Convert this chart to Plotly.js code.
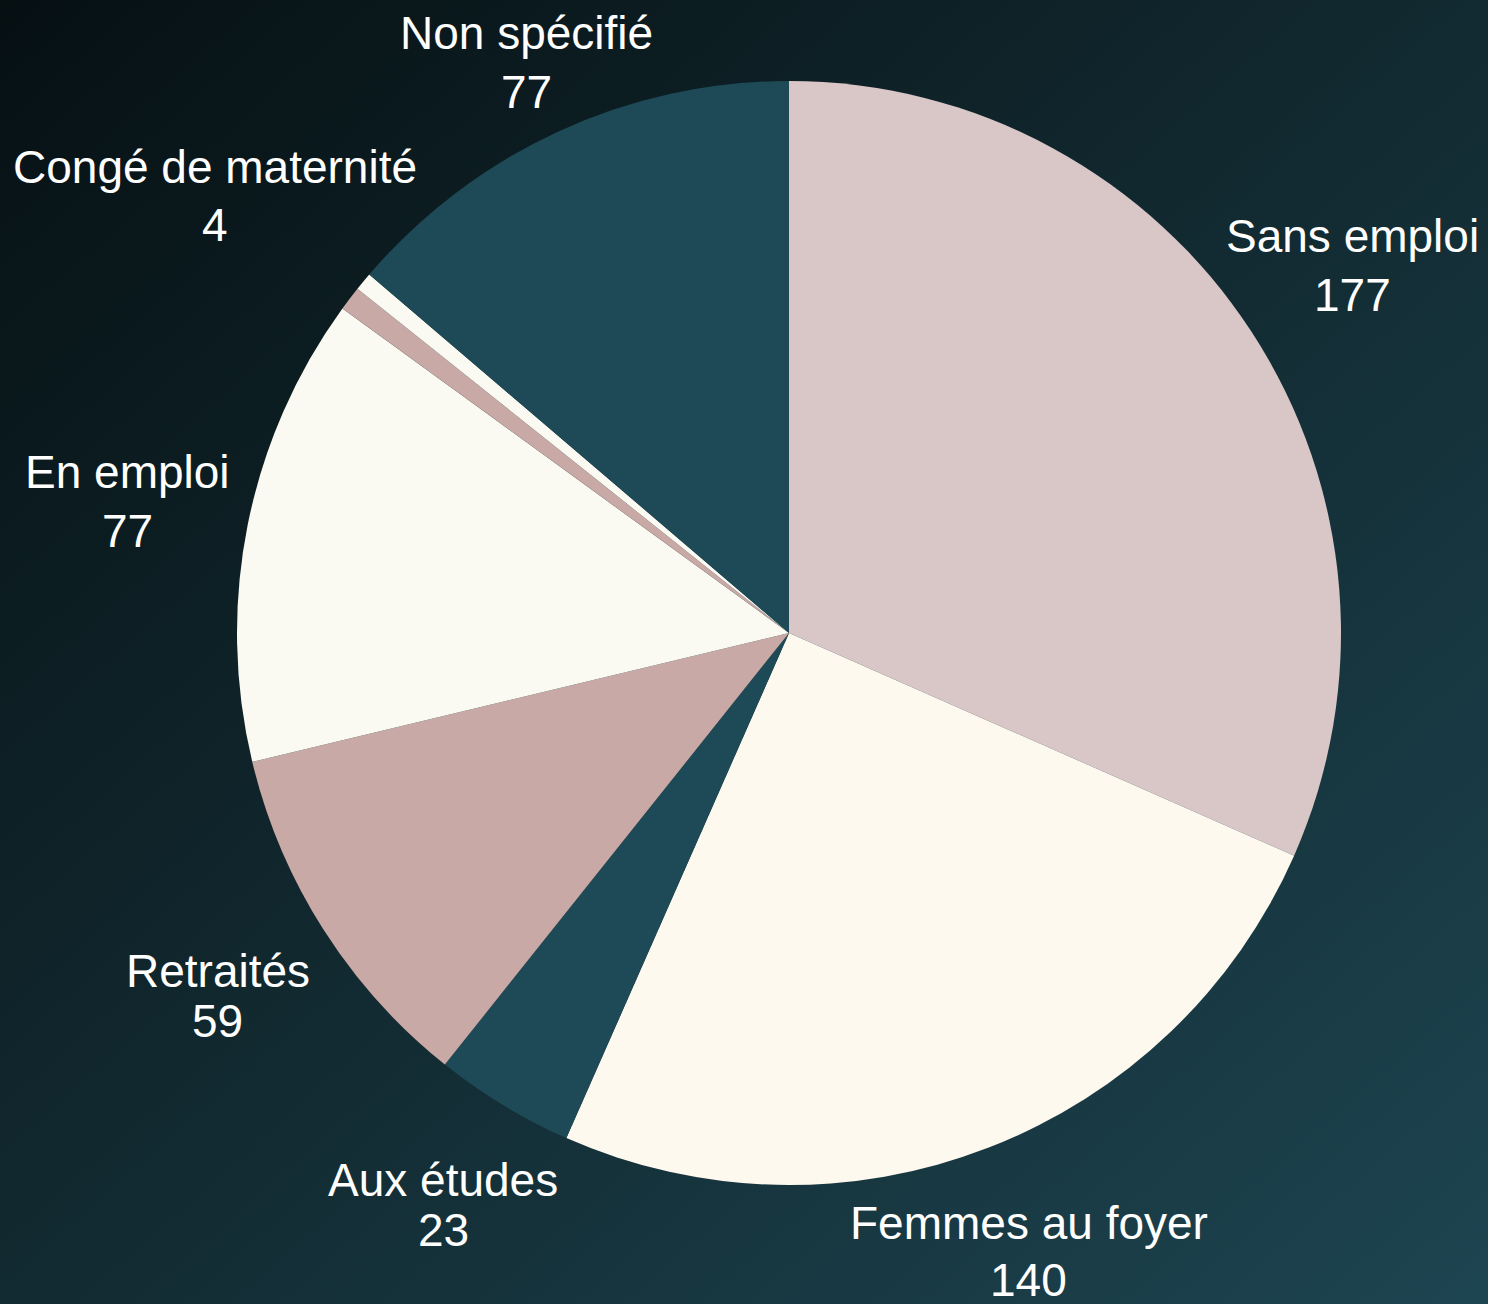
<!DOCTYPE html>
<html>
<head>
<meta charset="utf-8">
<script src="https://cdn.plot.ly/plotly-3.0.1.min.js"></script>
<style>
  html, body { margin: 0; padding: 0; width: 1488px; height: 1304px; overflow: hidden; }
  body { background: linear-gradient(to bottom right, #061013 0%, #122a31 50%, #1d4551 100%); }
  #chart { width: 1488px; height: 1304px; }
</style>
</head>
<body>
<div id="chart"></div>
<script>
// Data
const categories = ["Sans emploi", "Femmes au foyer", "Aux études", "Retraités", "En emploi", "Congé de maternité", "Autre", "Non spécifié"];
const values = [177, 140, 23, 59, 77, 4, 3, 77];
const showLabel = [true, true, true, true, true, true, false, true];

// Styles
const sliceColors = ["#d9c6c6", "#fef9ef", "#1d4a56", "#c9a9a6", "#fafaf3", "#c9a9a6", "#fafaf3", "#1d4a56"];
const labelRadiusPx = [673, 663, 668, 677, 674, 721, 660, 628];
const lineGapPx = [59, 57, 50, 50, 59, 58, 58, 59];

const W = 1488, H = 1304;
const margin = { l: 100, r: 10, t: 81, b: 119 };
const plotW = W - margin.l - margin.r;
const plotH = H - margin.t - margin.b;
const labelFont = { family: "Liberation Sans, Arial, sans-serif", size: 46, color: "#ffffff" };

const trace = {
  type: "pie",
  labels: categories,
  values: values,
  sort: false,
  direction: "clockwise",
  rotation: 0,
  textinfo: "none",
  marker: { colors: sliceColors, line: { width: 0 } },
  hoverinfo: "skip",
  showlegend: false
};

// Label annotations placed along each slice's mid-angle
const total = values.reduce((a, b) => a + b, 0);
let cum = 0;
const annotations = [];
values.forEach((v, i) => {
  const mid = (cum + v / 2) / total * 2 * Math.PI;
  cum += v;
  if (!showLabel[i]) return;
  const r = labelRadiusPx[i];
  const x = 0.5 + r * Math.sin(mid) / plotW;
  const yc = 0.5 + r * Math.cos(mid) / plotH;
  const dy = (lineGapPx[i] / 2) / plotH;
  annotations.push({
    xref: "paper", yref: "paper", x: x, y: yc + dy,
    xanchor: "center", yanchor: "middle",
    text: categories[i], showarrow: false, font: labelFont
  });
  annotations.push({
    xref: "paper", yref: "paper", x: x, y: yc - dy,
    xanchor: "center", yanchor: "middle",
    text: String(v), showarrow: false, font: labelFont
  });
});

const layout = {
  width: W,
  height: H,
  margin: margin,
  paper_bgcolor: "rgba(0,0,0,0)",
  plot_bgcolor: "rgba(0,0,0,0)",
  showlegend: false,
  annotations: annotations,
  font: { family: "Liberation Sans, Arial, sans-serif", color: "#ffffff" }
};

Plotly.newPlot("chart", [trace], layout, { displayModeBar: false, staticPlot: true });
</script>
</body>
</html>
